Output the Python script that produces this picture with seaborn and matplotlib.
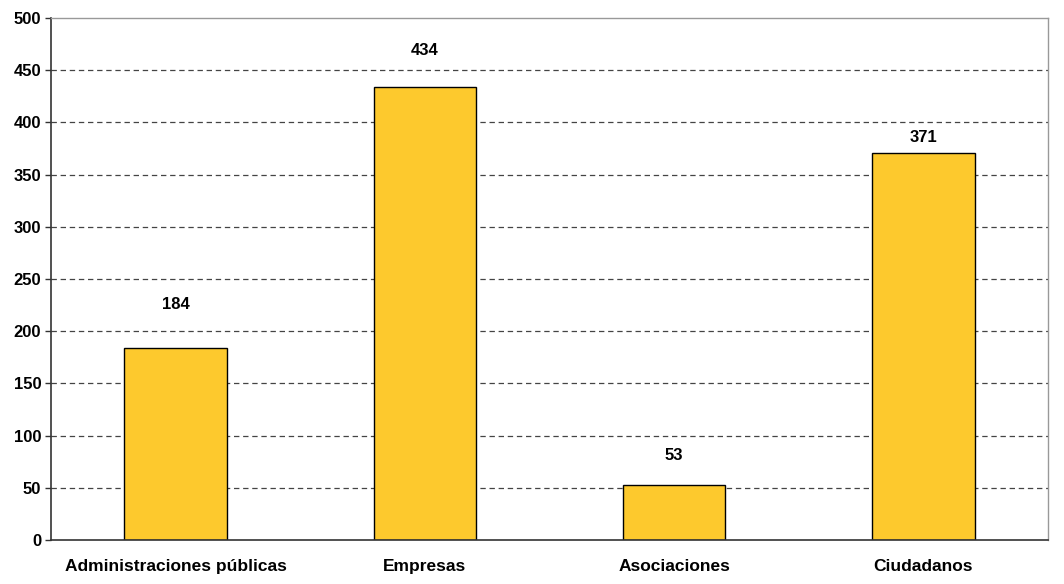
import numpy as np
import matplotlib
matplotlib.use("Agg")
import matplotlib.pyplot as plt
import pandas as pd
import seaborn as sns

categories = ["Administraciones públicas", "Empresas", "Asociaciones", "Ciudadanos"]
values = [184, 434, 53, 371]
yticks = list(range(0, 501, 50))
# vertical offset of each value label above its bar (points)
label_offsets = [31, 26, 21, 11]

sns.set_style("white")
plt.rcParams['font.family'] = ['Liberation Sans', 'DejaVu Sans']
plt.rcParams['text.color'] = 'black'
plt.rcParams['xtick.color'] = 'black'
plt.rcParams['ytick.color'] = 'black'

df = pd.DataFrame({"cat": categories, "val": values})

fig = plt.figure(figsize=(10.64, 5.84), dpi=100)
ax = fig.add_axes([0.0479, 0.0753, 0.9371, 0.8938])

sns.barplot(data=df, x="cat", y="val", ax=ax, color="#FDC92D", width=0.41,
            edgecolor="black", linewidth=1.0, saturation=1)

ax.set_xlim(-0.5, len(categories) - 0.5)
ax.set_ylim(0, 500)
ax.set_yticks(yticks)
ax.set_yticklabels([str(t) for t in yticks], fontsize=12, fontweight='bold')
for t in yticks[1:-1]:
    ax.axhline(t, color='#444444', linestyle=(0, (4.3, 3)), linewidth=0.9, zorder=0)

ax.set_xticks(range(len(categories)))
ax.set_xticklabels(categories, fontsize=12.5, fontweight='bold')
ax.set_xticks(np.arange(-0.5, len(categories)), minor=True)
ax.tick_params(axis='x', which='major', length=0, pad=14)
ax.tick_params(axis='x', which='minor', length=5, width=1, color='#333333')
ax.tick_params(axis='y', length=4, width=1, color='#333333', pad=3, left=True)
ax.set_xlabel("")
ax.set_ylabel("")

for s in ['left', 'bottom']:
    ax.spines[s].set_color('#333333')
    ax.spines[s].set_linewidth(1.2)
for s in ['top', 'right']:
    ax.spines[s].set_color('#999999')
    ax.spines[s].set_linewidth(1.0)

for i, v in enumerate(values):
    ax.annotate(str(v), (i, v), xytext=(0, label_offsets[i]), textcoords='offset points',
                ha='center', va='center', fontsize=12, fontweight='bold')

fig.savefig("out.png", dpi=100)
